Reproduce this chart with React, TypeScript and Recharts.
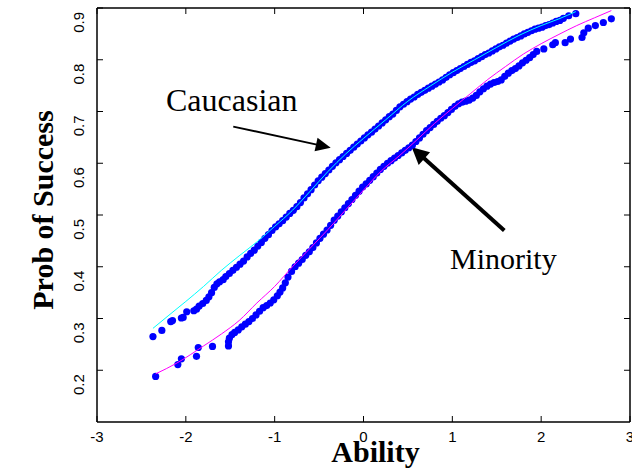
import {
  ScatterChart,
  Scatter,
  XAxis,
  YAxis,
  ReferenceLine,
  ReferenceDot,
} from "recharts";

const xTicks = [-3, -2, -1, 0, 1, 2, 3];
const yTicks = [0.2, 0.3, 0.4, 0.5, 0.6, 0.7, 0.8, 0.9];

const caucasianDots: [number, number][] = [
  [-2.37, 0.265], [-2.27, 0.277], [-2.17, 0.294], [-2.15, 0.296], [-2.05, 0.301], [-2.03, 0.302],
  [-1.99, 0.313], [-1.91, 0.315], [-1.88, 0.318], [-1.85, 0.324], [-1.81, 0.329], [-1.77, 0.335],
  [-1.74, 0.342], [-1.71, 0.35], [-1.68, 0.36], [-1.65, 0.367], [-1.62, 0.371], [-1.58, 0.375],
  [-1.55, 0.381], [-1.51, 0.387], [-1.47, 0.393], [-1.43, 0.399], [-1.39, 0.405], [-1.35, 0.411],
  [-1.31, 0.419], [-1.27, 0.426], [-1.23, 0.432], [-1.19, 0.44], [-1.15, 0.447], [-1.11, 0.455],
  [-1.07, 0.462], [-1.03, 0.47], [-0.99, 0.477], [-0.95, 0.483], [-0.91, 0.489], [-0.87, 0.496],
  [-0.83, 0.503], [-0.79, 0.509], [-0.75, 0.516], [-0.71, 0.524], [-0.67, 0.533], [-0.63, 0.541],
  [-0.59, 0.549], [-0.55, 0.558], [-0.51, 0.566], [-0.47, 0.573], [-0.43, 0.58], [-0.39, 0.587],
  [-0.35, 0.594], [-0.31, 0.601], [-0.27, 0.607], [-0.23, 0.613], [-0.19, 0.619], [-0.15, 0.625],
  [-0.11, 0.631], [-0.07, 0.637], [-0.03, 0.643], [0.01, 0.649], [0.05, 0.655], [0.09, 0.66],
  [0.13, 0.666], [0.17, 0.672], [0.21, 0.678], [0.25, 0.684], [0.29, 0.69], [0.33, 0.695],
  [0.37, 0.702], [0.41, 0.709], [0.45, 0.714], [0.49, 0.719], [0.53, 0.724], [0.57, 0.728],
  [0.61, 0.733], [0.65, 0.737], [0.69, 0.741], [0.73, 0.745], [0.77, 0.749], [0.81, 0.753],
  [0.85, 0.757], [0.89, 0.761], [0.93, 0.766], [0.97, 0.771], [1.01, 0.775], [1.05, 0.779],
  [1.09, 0.783], [1.13, 0.787], [1.17, 0.791], [1.21, 0.795], [1.25, 0.798], [1.29, 0.802],
  [1.33, 0.806], [1.37, 0.81], [1.41, 0.813], [1.45, 0.817], [1.49, 0.821], [1.53, 0.825],
  [1.57, 0.828], [1.61, 0.832], [1.65, 0.836], [1.69, 0.84], [1.73, 0.843], [1.77, 0.846],
  [1.81, 0.85], [1.85, 0.853], [1.89, 0.856], [1.93, 0.859], [1.97, 0.861], [2.01, 0.863],
  [2.05, 0.866], [2.09, 0.868], [2.13, 0.871], [2.17, 0.874], [2.21, 0.876], [2.25, 0.88],
  [2.31, 0.885], [2.39, 0.889],
];

const minorityDots: [number, number][] = [
  [-2.34, 0.188], [-2.09, 0.211], [-2.05, 0.222], [-1.88, 0.227], [-1.86, 0.244], [-1.7, 0.246],
  [-1.52, 0.247], [-1.52, 0.255], [-1.51, 0.262], [-1.48, 0.269], [-1.45, 0.273], [-1.41, 0.278],
  [-1.37, 0.284], [-1.33, 0.289], [-1.29, 0.294], [-1.25, 0.3], [-1.21, 0.307], [-1.17, 0.314],
  [-1.13, 0.321], [-1.09, 0.325], [-1.05, 0.33], [-1.01, 0.336], [-0.97, 0.344], [-0.94, 0.351],
  [-0.91, 0.359], [-0.88, 0.369], [-0.85, 0.38], [-0.81, 0.391], [-0.77, 0.4], [-0.73, 0.407],
  [-0.69, 0.414], [-0.65, 0.422], [-0.61, 0.429], [-0.57, 0.437], [-0.53, 0.446], [-0.49, 0.455],
  [-0.45, 0.463], [-0.41, 0.471], [-0.37, 0.48], [-0.33, 0.49], [-0.29, 0.498], [-0.25, 0.506],
  [-0.21, 0.514], [-0.17, 0.522], [-0.13, 0.53], [-0.09, 0.538], [-0.05, 0.546], [-0.01, 0.554],
  [0.03, 0.56], [0.07, 0.567], [0.11, 0.574], [0.15, 0.581], [0.19, 0.588], [0.23, 0.594],
  [0.27, 0.6], [0.31, 0.605], [0.35, 0.61], [0.39, 0.615], [0.43, 0.62], [0.47, 0.625],
  [0.51, 0.63], [0.55, 0.635], [0.59, 0.642], [0.63, 0.649], [0.67, 0.656], [0.71, 0.663],
  [0.75, 0.669], [0.79, 0.675], [0.83, 0.681], [0.87, 0.687], [0.91, 0.692], [0.95, 0.698],
  [0.99, 0.704], [1.03, 0.71], [1.07, 0.715], [1.11, 0.718], [1.15, 0.72], [1.19, 0.722],
  [1.23, 0.726], [1.27, 0.731], [1.31, 0.738], [1.35, 0.744], [1.39, 0.749], [1.43, 0.753],
  [1.47, 0.756], [1.51, 0.758], [1.55, 0.761], [1.59, 0.768], [1.63, 0.774], [1.67, 0.779],
  [1.71, 0.783], [1.75, 0.788], [1.79, 0.794], [1.83, 0.799], [1.87, 0.804], [1.91, 0.81],
  [1.95, 0.816], [2.03, 0.821], [2.13, 0.829], [2.16, 0.833], [2.27, 0.833], [2.33, 0.84],
  [2.46, 0.843], [2.48, 0.852], [2.53, 0.861], [2.61, 0.866], [2.7, 0.872], [2.79, 0.879],
];

const caucasianFit: [number, number][] = [
  [-2.37, 0.281], [-2.2, 0.305], [-2.0, 0.333], [-1.8, 0.362], [-1.6, 0.393], [-1.4, 0.421],
  [-1.2, 0.448], [-1.0, 0.478], [-0.8, 0.509], [-0.6, 0.546], [-0.4, 0.584], [-0.2, 0.618],
  [0.0, 0.648], [0.25, 0.684], [0.5, 0.72], [0.75, 0.749], [1.0, 0.776], [1.25, 0.8],
  [1.5, 0.824], [1.75, 0.847], [2.0, 0.866], [2.2, 0.879], [2.39, 0.893],
];

const minorityFit: [number, number][] = [
  [-2.34, 0.193], [-2.1, 0.214], [-1.8, 0.247], [-1.6, 0.27], [-1.4, 0.296], [-1.2, 0.33],
  [-1.0, 0.362], [-0.8, 0.4], [-0.6, 0.436], [-0.4, 0.472], [-0.2, 0.51], [0.0, 0.548],
  [0.2, 0.585], [0.4, 0.614], [0.6, 0.645], [0.8, 0.677], [1.0, 0.706], [1.2, 0.734],
  [1.4, 0.762], [1.6, 0.787], [1.8, 0.811], [2.0, 0.831], [2.2, 0.849], [2.4, 0.866],
  [2.6, 0.881], [2.79, 0.895],
];

const toPoints = (rows: [number, number][]) => rows.map(([x, y]) => ({ x, y }));

const TICK_FONT = "'Liberation Sans', Arial, sans-serif";
const SERIF = "'Liberation Serif', 'Times New Roman', serif";

const BottomTick = (props: any) => {
  const { x, y, payload } = props;
  return (
    <g>
      <line x1={x} y1={y} x2={x} y2={y - 6} stroke="#000" strokeWidth={1} />
      <text x={x} y={y + 20} textAnchor="middle" fontSize={15} fontFamily={TICK_FONT} fill="#000">
        {payload.value}
      </text>
    </g>
  );
};

const TopTick = (props: any) => {
  const { x, y } = props;
  return <line x1={x} y1={y} x2={x} y2={y + 6} stroke="#000" strokeWidth={1} />;
};

const LeftTick = (props: any) => {
  const { x, y, payload } = props;
  const tx = x - 13.5;
  const ty = y + 4;
  return (
    <g>
      <line x1={x} y1={y} x2={x + 6} y2={y} stroke="#000" strokeWidth={1} />
      <text
        x={tx}
        y={ty}
        textAnchor="end"
        fontSize={15}
        fontFamily={TICK_FONT}
        fill="#000"
        transform={`rotate(-90 ${tx} ${ty})`}
      >
        {String(payload.value)}
      </text>
    </g>
  );
};

const RightTick = (props: any) => {
  const { x, y } = props;
  return <line x1={x} y1={y} x2={x - 6} y2={y} stroke="#000" strokeWidth={1} />;
};

const makeArrow = (width: number, headLen: number, headHalf: number) => (props: any) => {
  const { x1, y1, x2, y2 } = props;
  const dx = x2 - x1;
  const dy = y2 - y1;
  const len = Math.sqrt(dx * dx + dy * dy) || 1;
  const ux = dx / len;
  const uy = dy / len;
  const bx = x2 - ux * headLen;
  const by = y2 - uy * headLen;
  const pts = `${x2},${y2} ${bx - uy * headHalf},${by + ux * headHalf} ${bx + uy * headHalf},${by - ux * headHalf}`;
  return (
    <g>
      <line x1={x1} y1={y1} x2={bx + ux * 2} y2={by + uy * 2} stroke="#000" strokeWidth={width} />
      <polygon points={pts} fill="#000" />
    </g>
  );
};

const textShape = (label: string, size: number) => (props: any) => (
  <text x={props.cx} y={props.cy} fontSize={size} fontFamily={SERIF} fill="#000">
    {label}
  </text>
);

const dotShape = (props: any) => <circle cx={props.cx} cy={props.cy} r={3.6} fill="#0000ff" />;
const noShape = () => <g />;

export default function App() {
  return (
    <div style={{ position: "absolute", left: 0, top: 0, background: "#fff" }}>
      <ScatterChart width={632} height={470} margin={{ top: 7, right: 1, bottom: 47, left: 96 }}>
        <XAxis
          xAxisId="bottom"
          type="number"
          dataKey="x"
          domain={[-3, 3]}
          ticks={xTicks}
          height={1}
          tickSize={0}
          tickMargin={0}
          tickLine={false}
          axisLine={{ stroke: "#000", strokeWidth: 1.5 }}
          tick={BottomTick}
          interval={0}
          allowDataOverflow
          label={(p: any) => {
            const vb = p.viewBox;
            return (
              <text
                x={vb.x + vb.width / 2 + 12}
                y={vb.y + 40}
                textAnchor="middle"
                fontSize={30}
                fontWeight="bold"
                fontFamily={SERIF}
                fill="#000"
              >
                Ability
              </text>
            );
          }}
        />
        <XAxis
          xAxisId="top"
          orientation="top"
          type="number"
          dataKey="x"
          domain={[-3, 3]}
          ticks={xTicks}
          height={1}
          tickSize={0}
          tickMargin={0}
          tickLine={false}
          axisLine={{ stroke: "#000", strokeWidth: 1.5 }}
          tick={TopTick}
          interval={0}
          allowDataOverflow
        />
        <YAxis
          yAxisId="left"
          type="number"
          dataKey="y"
          domain={[0.1, 0.9]}
          ticks={yTicks}
          width={1}
          tickSize={0}
          tickMargin={0}
          tickLine={false}
          axisLine={{ stroke: "#000", strokeWidth: 1.5 }}
          tick={LeftTick}
          interval={0}
          allowDataOverflow
          label={(p: any) => {
            const vb = p.viewBox;
            const lx = vb.x - 43;
            const ly = vb.y + vb.height / 2 - 5;
            return (
              <text
                x={lx}
                y={ly}
                textAnchor="middle"
                fontSize={30}
                fontWeight="bold"
                fontFamily={SERIF}
                fill="#000"
                transform={`rotate(-90 ${lx} ${ly})`}
              >
                Prob of Success
              </text>
            );
          }}
        />
        <YAxis
          yAxisId="right"
          orientation="right"
          type="number"
          dataKey="y"
          domain={[0.1, 0.9]}
          ticks={yTicks}
          width={1}
          tickSize={0}
          tickMargin={0}
          tickLine={false}
          axisLine={{ stroke: "#000", strokeWidth: 1.5 }}
          tick={RightTick}
          interval={0}
          allowDataOverflow
        />
        <Scatter
          xAxisId="bottom"
          yAxisId="left"
          name="Caucasian"
          data={toPoints(caucasianDots)}
          shape={dotShape}
          isAnimationActive={false}
        />
        <Scatter
          xAxisId="bottom"
          yAxisId="left"
          name="Minority"
          data={toPoints(minorityDots)}
          shape={dotShape}
          isAnimationActive={false}
        />
        <Scatter
          xAxisId="bottom"
          yAxisId="left"
          name="Caucasian fit"
          data={toPoints(caucasianFit)}
          shape={noShape}
          line={{ stroke: "#00ffff", strokeWidth: 1 }}
          lineJointType="monotoneX"
          isAnimationActive={false}
        />
        <Scatter
          xAxisId="bottom"
          yAxisId="left"
          name="Minority fit"
          data={toPoints(minorityFit)}
          shape={noShape}
          line={{ stroke: "#ff00ff", strokeWidth: 1 }}
          lineJointType="monotoneX"
          isAnimationActive={false}
        />
        <ReferenceLine
          xAxisId="bottom"
          yAxisId="left"
          segment={[{ x: -1.466, y: 0.671 }, { x: -0.369, y: 0.63 }]}
          shape={makeArrow(1.8, 15, 7)}
        />
        <ReferenceLine
          xAxisId="bottom"
          yAxisId="left"
          segment={[{ x: 1.585, y: 0.47 }, { x: 0.543, y: 0.631 }]}
          shape={makeArrow(4, 17, 8.5)}
        />
        <ReferenceDot xAxisId="bottom" yAxisId="left" x={-2.223} y={0.7015} r={0} shape={textShape("Caucasian", 32)} />
        <ReferenceDot xAxisId="bottom" yAxisId="left" x={0.974} y={0.3965} r={0} shape={textShape("Minority", 30)} />
      </ScatterChart>
    </div>
  );
}
